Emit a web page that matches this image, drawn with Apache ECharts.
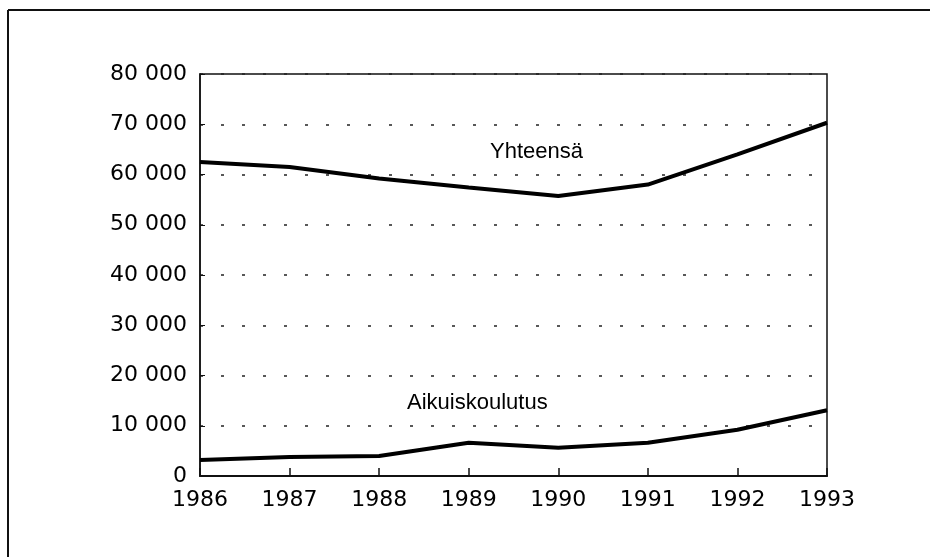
<!DOCTYPE html>
<html>
<head>
<meta charset="utf-8">
<script src="https://cdn.jsdelivr.net/npm/echarts@6/dist/echarts.min.js"></script>
<style>
  html, body { margin: 0; padding: 0; background: #fff; }
  #chart { width: 930px; height: 557px; }
</style>
</head>
<body>
<div id="chart"></div>
<script>
// vuodet ja sarjat (luettu kuvasta)
const years = ['1986', '1987', '1988', '1989', '1990', '1991', '1992', '1993'];
const yhteensa = [62500, 61500, 59200, 57400, 55700, 58000, 64000, 70300];
const aikuiskoulutus = [3200, 3800, 4000, 6600, 5600, 6600, 9200, 13100];
const yTicks = [0, 10000, 20000, 30000, 40000, 50000, 60000, 70000, 80000];

const font = 'Liberation Sans, Arial, sans-serif';
const axisFont = 'DejaVu Sans, sans-serif';
const chart = echarts.init(document.getElementById('chart'));

chart.setOption({
    backgroundColor: '#fff',
    animation: false,
    grid: {
        left: 200,
        right: 103,
        top: 74,
        bottom: 81,
        show: true,
        borderColor: '#111',
        borderWidth: 1.5,
        containLabel: false
    },
    xAxis: {
        type: 'category',
        data: years,
        boundaryGap: false,
        axisLine: { lineStyle: { color: '#111', width: 2 } },
        axisTick: { inside: true, length: 8, lineStyle: { color: '#111', width: 1.5 } },
        axisLabel: {
            color: '#000',
            fontFamily: axisFont,
            fontSize: 22,
            margin: 13
        },
        splitLine: { show: false }
    },
    yAxis: {
        type: 'value',
        min: yTicks[0],
        max: yTicks[yTicks.length - 1],
        interval: 10000,
        axisLine: { show: true, lineStyle: { color: '#111', width: 1.5 } },
        axisTick: { show: true, inside: true, length: 5, lineStyle: { color: '#111' } },
        axisLabel: {
            color: '#000',
            fontFamily: axisFont,
            fontSize: 22,
            margin: 13,
            formatter: function (v) {
                return v === 0 ? '0' : Math.floor(v / 1000) + ' 000';
            }
        },
        splitLine: {
            show: true,
            lineStyle: { color: '#222', width: 1.5, type: [3, 18] }
        }
    },
    series: [
        {
            name: 'Yhteensä',
            type: 'line',
            data: yhteensa,
            symbol: 'none',
            lineStyle: { color: '#000', width: 4 }
        },
        {
            name: 'Aikuiskoulutus',
            type: 'line',
            data: aikuiskoulutus,
            symbol: 'none',
            lineStyle: { color: '#000', width: 4 }
        }
    ],
    graphic: [
        // kehys
        { type: 'line', shape: { x1: 8, y1: 10, x2: 930, y2: 10 }, style: { stroke: '#111', lineWidth: 2 } },
        { type: 'line', shape: { x1: 8, y1: 10, x2: 8, y2: 557 }, style: { stroke: '#111', lineWidth: 2 } },
        {
            type: 'text', left: 490, top: 141,
            style: { text: 'Yhteensä', fill: '#000', font: '22px ' + font }
        },
        {
            type: 'text', left: 407, top: 392,
            style: { text: 'Aikuiskoulutus', fill: '#000', font: '22px ' + font }
        }
    ]
});
</script>
</body>
</html>
